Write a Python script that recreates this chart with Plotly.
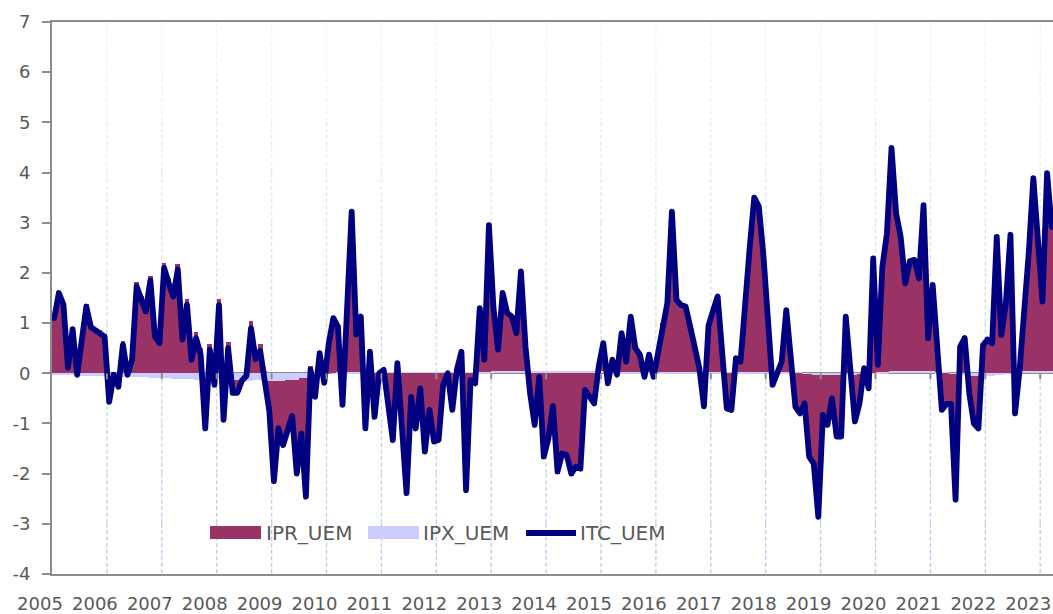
import plotly.graph_objects as go

# ---------------- data (monthly, Jan 2005 .. Mar 2023) ----------------
years = [str(y) for y in range(2005, 2024)]

ITC_UEM = [
    1.10, 1.60, 1.37, 0.11, 0.88, -0.03, 0.65, 1.33, 0.92, 0.85, 0.80, 0.73,      # 2005
    -0.57, -0.03, -0.27, 0.57, -0.03, 0.27, 1.73, 1.45, 1.23, 1.85, 0.73, 0.60,   # 2006
    2.10, 1.80, 1.53, 2.07, 0.67, 1.37, 0.27, 0.70, 0.37, -1.10, 0.47, -0.23,     # 2007
    1.36, -0.93, 0.50, -0.39, -0.39, -0.15, -0.05, 0.90, 0.28, 0.45, -0.10, -0.75, # 2008
    -2.15, -1.10, -1.43, -1.13, -0.85, -2.00, -1.20, -2.46, 0.07, -0.47, 0.40, -0.19, # 2009
    0.60, 1.10, 0.93, -0.63, 1.40, 3.22, 0.77, 1.13, -1.10, 0.43, -0.87, 0.00,    # 2010
    0.07, -0.65, -1.33, 0.20, -1.10, -2.39, -0.47, -1.10, -0.30, -1.56, -0.73, -1.36, # 2011
    -1.33, -0.23, 0.00, -0.73, 0.07, 0.43, -2.33, -0.13, -0.20, 1.30, 0.27, 2.95, # 2012
    1.30, 0.47, 1.60, 1.20, 1.13, 0.80, 2.03, 0.53, -0.40, -1.03, -0.07, -1.66,   # 2013
    -1.30, -0.65, -1.96, -1.60, -1.63, -2.00, -1.86, -1.90, -0.33, -0.47, -0.60, 0.13, # 2014
    0.60, -0.20, 0.27, -0.03, 0.80, 0.23, 1.13, 0.50, 0.37, -0.07, 0.37, -0.07,   # 2015
    0.47, 1.00, 1.40, 3.22, 1.46, 1.36, 1.33, 0.93, 0.50, 0.10, -0.66, 0.95,      # 2016
    1.25, 1.53, 0.40, -0.70, -0.73, 0.30, 0.23, 1.50, 2.50, 3.50, 3.32, 2.35,     # 2017
    0.84, -0.23, 0.00, 0.23, 1.26, 0.12, -0.67, -0.80, -0.60, -1.66, -1.80, -2.86, # 2018
    -0.83, -1.03, -0.50, -1.26, -1.26, 1.13, 0.10, -0.96, -0.60, 0.10, -0.30, 2.29, # 2019
    0.17, 2.12, 2.79, 4.49, 3.19, 2.72, 1.79, 2.23, 2.26, 1.89, 3.35, 0.70,       # 2020
    1.76, 0.30, -0.73, -0.61, -0.61, -2.52, 0.53, 0.70, -0.40, -1.00, -1.10, 0.56, # 2021
    0.67, 0.60, 2.72, 0.76, 1.40, 2.76, -0.80, 0.07, 1.10, 2.40, 3.89, 2.60,      # 2022
    1.43, 3.99, 2.92,                                                             # 2023
]

IPX_UEM = [
    -0.02, -0.03, -0.03, -0.04, -0.04, -0.04, -0.05, -0.05, -0.05, -0.05, -0.06, -0.06,
    -0.06, -0.06, -0.07, -0.07, -0.07, -0.08, -0.08, -0.08, -0.08, -0.09, -0.09, -0.09,
    -0.10, -0.10, -0.11, -0.11, -0.12, -0.12, -0.12, -0.13, -0.13, -0.13, -0.12, -0.12,
    -0.12, -0.12, -0.13, -0.13, -0.14, -0.15, -0.15, -0.15, -0.14, -0.14, -0.15, -0.15,
    -0.15, -0.15, -0.15, -0.13, -0.13, -0.13, -0.10, -0.10, -0.08, -0.06, -0.04, -0.02,
    0.00, 0.01, 0.02, 0.02, 0.03, 0.03, 0.03, 0.03, 0.03, 0.03, 0.03, 0.03,
    0.03, 0.03, 0.03, 0.02, 0.02, 0.02, 0.02, 0.02, 0.02, 0.02, 0.02, 0.02,
    0.02, 0.02, 0.02, 0.02, 0.02, 0.03, 0.03, 0.03, 0.03, 0.03, 0.03, 0.03,
    0.04, 0.04, 0.04, 0.04, 0.04, 0.04, 0.04, 0.04, 0.04, 0.04, 0.04, 0.04,
    0.04, 0.04, 0.04, 0.04, 0.04, 0.04, 0.04, 0.04, 0.04, 0.04, 0.04, 0.04,
    0.04, 0.04, 0.03, 0.03, 0.03, 0.03, 0.03, 0.03, 0.03, 0.03, 0.03, 0.03,
    0.03, 0.02, 0.02, 0.02, 0.02, 0.02, 0.02, 0.02, 0.02, 0.02, 0.02, 0.02,
    0.02, 0.02, 0.02, 0.02, 0.02, 0.02, 0.03, 0.03, 0.03, 0.03, 0.03, 0.03,
    0.03, 0.03, 0.03, 0.03, 0.03, 0.03, 0.02, 0.01, -0.01, -0.02, -0.03, -0.04,
    -0.04, -0.04, -0.04, -0.04, -0.04, -0.04, -0.03, -0.03, -0.02, -0.02, -0.01, 0.01,
    0.02, 0.03, 0.03, 0.04, 0.04, 0.04, 0.04, 0.04, 0.04, 0.04, 0.04, 0.04,
    0.04, 0.03, 0.02, 0.01, -0.01, -0.02, -0.03, -0.04, -0.05, -0.05, -0.05, -0.05,
    -0.05, -0.05, -0.04, -0.03, -0.01, 0.01, 0.03, 0.04, 0.05, 0.05, 0.05, 0.05,
    0.05, 0.05, 0.05,
]

IPR_UEM = [
    1.12, 1.63, 1.40, 0.15, 0.92, 0.01, 0.70, 1.38, 0.97, 0.90, 0.86, 0.79,
    -0.51, 0.03, -0.20, 0.64, 0.04, 0.35, 1.81, 1.53, 1.31, 1.94, 0.82, 0.69,
    2.20, 1.90, 1.64, 2.18, 0.79, 1.49, 0.39, 0.83, 0.50, -0.97, 0.59, -0.11,
    1.48, -0.81, 0.63, -0.26, -0.25, 0.00, 0.10, 1.05, 0.42, 0.59, 0.05, -0.60,
    -2.00, -0.95, -1.28, -1.00, -0.72, -1.87, -1.10, -2.36, 0.15, -0.41, 0.44, -0.17,
    0.60, 1.09, 0.91, -0.65, 1.37, 3.19, 0.74, 1.10, -1.13, 0.40, -0.90, -0.03,
    0.04, -0.68, -1.36, 0.18, -1.12, -2.41, -0.49, -1.12, -0.32, -1.58, -0.75, -1.38,
    -1.35, -0.25, -0.02, -0.75, 0.05, 0.40, -2.36, -0.16, -0.23, 1.27, 0.24, 2.92,
    1.26, 0.43, 1.56, 1.16, 1.09, 0.76, 1.99, 0.49, -0.44, -1.07, -0.11, -1.70,
    -1.34, -0.69, -2.00, -1.64, -1.67, -2.04, -1.90, -1.94, -0.37, -0.51, -0.64, 0.09,
    0.56, -0.24, 0.24, -0.06, 0.77, 0.20, 1.10, 0.47, 0.34, -0.10, 0.34, -0.10,
    0.44, 0.98, 1.38, 3.20, 1.44, 1.34, 1.31, 0.91, 0.48, 0.08, -0.68, 0.93,
    1.23, 1.51, 0.38, -0.72, -0.75, 0.28, 0.20, 1.47, 2.47, 3.47, 3.29, 2.32,
    0.81, -0.26, -0.03, 0.20, 1.23, 0.09, -0.69, -0.81, -0.59, -1.64, -1.77, -2.82,
    -0.79, -0.99, -0.46, -1.22, -1.22, 1.17, 0.13, -0.93, -0.58, 0.12, -0.29, 2.28,
    0.15, 2.09, 2.76, 4.45, 3.15, 2.68, 1.75, 2.19, 2.22, 1.85, 3.31, 0.66,
    1.72, 0.27, -0.75, -0.62, -0.60, -2.50, 0.56, 0.74, -0.35, -0.95, -1.05, 0.61,
    0.72, 0.65, 2.76, 0.79, 1.41, 2.75, -0.83, 0.03, 1.05, 2.35, 3.84, 2.55,
    1.38, 3.94, 2.87,
]

y_ticks = list(range(-4, 8))
y_tick_text = [str(v) for v in y_ticks]   # plain hyphen-minus, as in the reference

# ---------------- styling ----------------
FONT = "DejaVu Sans"
TXT = "#595959"
AXC = "#8c8c8c"
C_IPR = "#993366"
C_IPX = "#ccccff"
C_ITC = "#000080"

W, H = 1053, 614
ML, MR, MT, MB = 52, 0, 22, 40
PW, PH = W - ML - MR, H - MT - MB
PX_PER_MONTH = 4.575
x_max = PW / PX_PER_MONTH

n = len(ITC_UEM)
x = [i + 0.5 for i in range(n)]          # each month centred in its slot
year_pos = [12 * i for i in range(len(years))]

fig = go.Figure()
fig.add_trace(go.Bar(x=x, y=IPX_UEM, name="IPX_UEM", marker=dict(color=C_IPX, line=dict(width=0)),
                     width=1.04, showlegend=False))
fig.add_trace(go.Bar(x=x, y=IPR_UEM, name="IPR_UEM", marker=dict(color=C_IPR, line=dict(width=0)),
                     width=1.04, showlegend=False))
fig.add_trace(go.Scatter(x=x, y=ITC_UEM, name="ITC_UEM", mode="lines", yaxis="y2",
                         line=dict(color=C_ITC, width=5.8), showlegend=False))

shapes = []
# vertical dashed year gridlines, fading toward the top
top_c = (243, 246, 251)
bot_c = (182, 202, 230)
nseg = 11
for xp in year_pos[1:]:
    for s in range(nseg):
        t = (s + 0.5) / nseg
        c = tuple(int(round(top_c[k] + (bot_c[k] - top_c[k]) * t)) for k in range(3))
        y_hi = 7 - 11 * s / nseg
        y_lo = 7 - 11 * (s + 1) / nseg
        shapes.append(dict(type="line", xref="x", yref="y", x0=xp, x1=xp, y0=y_hi, y1=y_lo,
                           line=dict(color="rgb(%d,%d,%d)" % c, width=1.3, dash="4px,2.5px"),
                           layer="below"))

def px_x(p):
    return (p - ML) / PW

def px_y(p):
    return (H - MB - p) / PH

# white legend box (hides gridlines)
shapes.append(dict(type="rect", xref="paper", yref="paper", x0=px_x(98), x1=px_x(692),
                   y0=px_y(560), y1=px_y(510), fillcolor="white", line=dict(width=0), layer="below"))
# small tick marks on the zero line
for xp in year_pos[1:]:
    shapes.append(dict(type="line", xref="x", yref="y", ysizemode="pixel", yanchor=0,
                       x0=xp, x1=xp, y0=0, y1=-6, line=dict(color=AXC, width=2), layer="above"))

# manual legend
ly0, ly1, lyc = px_y(539), px_y(526), px_y(533)
shapes.append(dict(type="rect", xref="paper", yref="paper", x0=px_x(210), x1=px_x(261), y0=ly0, y1=ly1,
                   fillcolor=C_IPR, line=dict(width=0)))
shapes.append(dict(type="rect", xref="paper", yref="paper", x0=px_x(368), x1=px_x(419), y0=ly0, y1=ly1,
                   fillcolor=C_IPX, line=dict(width=0)))
shapes.append(dict(type="line", xref="paper", yref="paper", x0=px_x(526), x1=px_x(576), y0=lyc, y1=lyc,
                   line=dict(color=C_ITC, width=5.8)))
annotations = []
for label, xs in (("IPR_UEM", 264), ("IPX_UEM", 421), ("ITC_UEM", 578)):
    annotations.append(dict(text=label, xref="paper", yref="paper", x=px_x(xs), y=lyc,
                            xanchor="left", yanchor="middle", showarrow=False,
                            font=dict(family=FONT, size=20, color=TXT)))

fig.update_layout(
    width=W, height=H,
    margin=dict(l=ML, r=MR, t=MT, b=MB, pad=0, autoexpand=False),
    paper_bgcolor="white", plot_bgcolor="white",
    barmode="relative", bargap=0,
    shapes=shapes, annotations=annotations,
    showlegend=False,
    font=dict(family=FONT, size=18, color=TXT),
    xaxis=dict(range=[0, x_max], tickmode="array", tickvals=year_pos, ticktext=years,
               automargin=False,
               showgrid=False, zeroline=False, showline=True, mirror=True,
               linecolor=AXC, linewidth=2, ticks="", ticklabelshift=-12, ticklabelstandoff=12,
               tickfont=dict(family=FONT, size=18, color=TXT)),
    yaxis=dict(range=[-4, 7], tickmode="array", tickvals=y_ticks, ticktext=y_tick_text,
               automargin=False, showgrid=False, zeroline=False,
               showline=True, linecolor=AXC, linewidth=2, ticks="outside", ticklen=8,
               tickwidth=2, tickcolor=AXC, ticklabelstandoff=8,
               tickfont=dict(family=FONT, size=18, color=TXT)),
    yaxis2=dict(range=[-4, 7], overlaying="y", side="left", showgrid=False, zeroline=True,
                automargin=False,
                zerolinecolor=AXC, zerolinewidth=2, showticklabels=False, ticks="",
                showline=False),
)

post = (
    "document.body.style.margin='0';document.body.style.overflow='hidden';"
    "var s=document.createElement('style');"
    "s.innerHTML='.scatterlayer .js-line{stroke-linejoin:round !important;stroke-linecap:round !important;}';"
    "document.head.appendChild(s);"
)
fig.write_html("out.html", config={"displayModeBar": False}, post_script=post)
